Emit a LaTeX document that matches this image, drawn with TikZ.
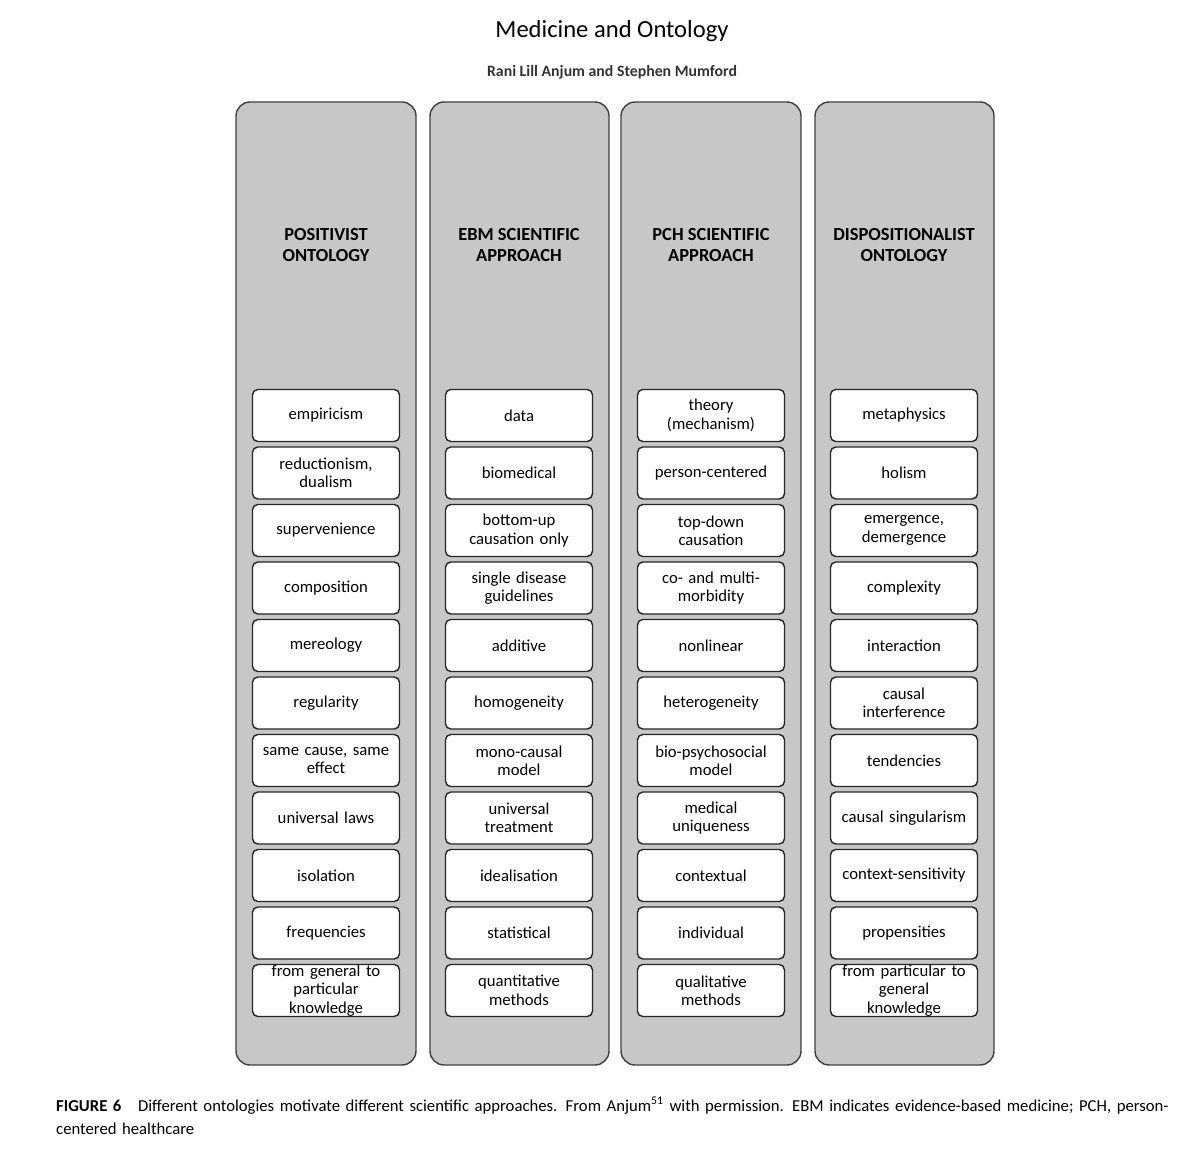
\documentclass[tikz,border=0pt]{standalone}
\usepackage{fontspec}
\setmainfont{Carlito}
\tikzset{
	colbox/.style={draw=black!75,fill=black!22,rounded corners=8pt,line width=0.8pt},
	itembox/.style={draw=black!85,fill=white,rounded corners=3pt,line width=0.8pt,
		minimum width=2.94cm,minimum height=1.04cm,text width=2.8cm,align=center,
		inner sep=0pt,font=\fontsize{9.5}{10.5}\selectfont},
	head/.style={align=center,font=\fontsize{10.5}{12}\bfseries\selectfont}
}
\begin{document}
\begin{tikzpicture}[x=0.02cm,y=-0.02cm]
\useasboundingbox (0,0) rectangle (1200,1158);
\node (title) at (612,31) {\fontsize{14}{16}\selectfont Medicine and Ontology};
\node (sub) at (612,72) {\fontsize{9}{11}\bfseries\selectfont\color{black!80}Rani Lill Anjum and Stephen Mumford};

% columns
\foreach \c/\xl/\xr in {1/236/416,2/430/609,3/621/801,4/815/994}
	\draw[colbox] (\xl,102) rectangle (\xr,1065);

\node[head] (h1) at (326,245) {POSITIVIST\\ONTOLOGY};
\node[head] (h2) at (519,245) {EBM SCIENTIFIC\\APPROACH};
\node[head] (h3) at (711,245) {PCH SCIENTIFIC\\APPROACH};
\node[head] (h4) at (904,245) {DISPOSITIONALIST\\ONTOLOGY};

% positivist
\foreach \i/\t in {1/empiricism,2/{reductionism,\\dualism},3/supervenience,4/composition,
	5/mereology,6/regularity,7/{same cause, same\\effect},8/universal laws,9/isolation,
	10/frequencies,11/{from general to\\particular\\knowledge}}
	\node[itembox] (p\i) at (326,{358+57.5*\i}) {\t};
% EBM
\foreach \i/\t in {1/data,2/biomedical,3/{bottom-up\\causation only},4/{single disease\\guidelines},
	5/additive,6/homogeneity,7/{mono-causal\\model},8/{universal\\treatment},9/idealisation,
	10/statistical,11/{quantitative\\methods}}
	\node[itembox] (e\i) at (519,{358+57.5*\i}) {\t};
% PCH
\foreach \i/\t in {1/{theory\\(mechanism)},2/person-centered,3/{top-down\\causation},4/{co- and multi-\\morbidity},
	5/nonlinear,6/heterogeneity,7/{bio-psychosocial\\model},8/{medical\\uniqueness},9/contextual,
	10/individual,11/{qualitative\\methods}}
	\node[itembox] (c\i) at (711,{358+57.5*\i}) {\t};
% dispositionalist
\foreach \i/\t in {1/metaphysics,2/holism,3/{emergence,\\demergence},4/complexity,
	5/interaction,6/{causal\\interference},7/tendencies,8/causal singularism,9/context-sensitivity,
	10/propensities,11/{from particular to\\general\\knowledge}}
	\node[itembox] (d\i) at (904,{358+57.5*\i}) {\t};

\node[anchor=west,text width=22.4cm,align=left,font=\fontsize{9.5}{13.5}\selectfont] (cap) at (50,1116)
	{\textbf{FIGURE 6}\quad Different ontologies motivate different scientific approaches. From Anjum\textsuperscript{51} with permission. EBM indicates evidence-based medicine; PCH, person-centered healthcare};
\end{tikzpicture}
\end{document}
